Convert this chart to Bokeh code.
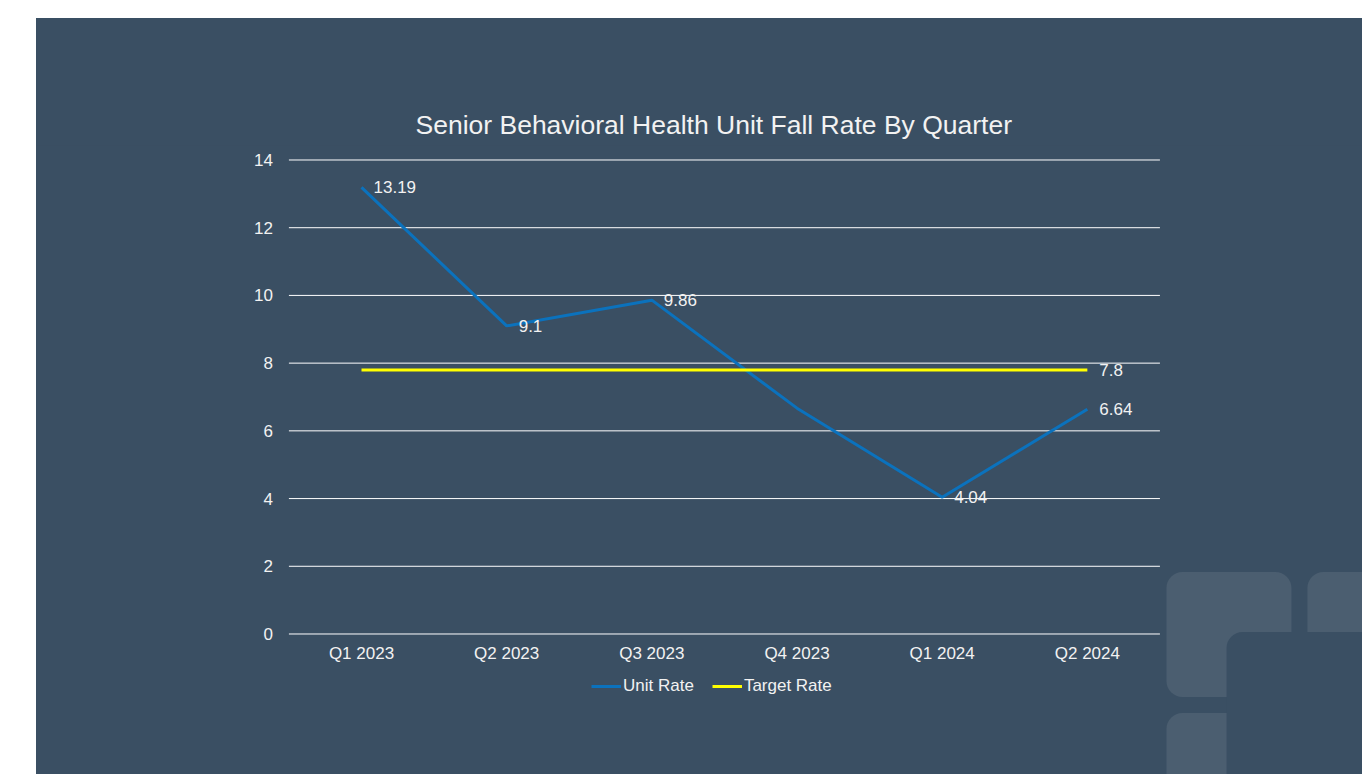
from bokeh.plotting import figure
from bokeh.models import (Range1d, FixedTicker, Legend, LegendItem,
                          Spacer, ColumnDataSource)
from bokeh.layouts import row, column
from bokeh.embed import file_html
from bokeh.resources import INLINE
from bokeh.core.properties import value

# ---- data ----
quarters = ["Q1 2023", "Q2 2023", "Q3 2023", "Q4 2023", "Q1 2024", "Q2 2024"]
unit_rate = [13.19, 9.1, 9.86, 6.67, 4.04, 6.64]
unit_label_shown = [True, True, True, False, True, True]
target_rate = [7.8, 7.8, 7.8, 7.8, 7.8, 7.8]
target_label_shown = [False, False, False, False, False, True]
y_ticks = [0, 2, 4, 6, 8, 10, 12, 14]

BG = "#3a4f63"
LIGHT = "#4b5e70"
TXT = "#f2f2f2"
FONT = "Liberation Sans"

xs = list(range(len(quarters)))
n = len(quarters)

# frame covers the dark panel below the title; category i centred at i
p = figure(width=1326, height=756, output_backend="svg", toolbar_location=None,
           x_range=Range1d(-2.2388, 6.8954),
           y_range=Range1d(-4.150, 14.428),
           min_border_left=0, min_border_right=0,
           min_border_top=127, min_border_bottom=0)
p.background_fill_color = BG
p.background_fill_alpha = 0
p.border_fill_color = BG
p.outline_line_color = None
p.styles = {"background-color": BG}

p.title.text = "Senior Behavioral Health Unit Fall Rate By Quarter"
p.title.text_font = FONT
p.title.text_font_size = "26.5px"
p.title.text_font_style = "normal"
p.title.text_color = TXT
p.title.align = "left"
p.title.offset = 379
p.title.standoff = 11

# axes, pinned to the chart area
p.xaxis.ticker = FixedTicker(ticks=xs)
p.xaxis.major_label_overrides = {i: q for i, q in zip(xs, quarters)}
p.xaxis.fixed_location = 0
p.yaxis.ticker = FixedTicker(ticks=y_ticks)
p.yaxis.fixed_location = -0.5
for ax in (p.xaxis[0], p.yaxis[0]):
    ax.axis_line_color = None
    ax.major_tick_line_color = None
    ax.minor_tick_line_color = None
    ax.major_tick_out = 0
    ax.major_tick_in = 0
    ax.major_label_text_font = FONT
    ax.major_label_text_font_size = "17px"
    ax.major_label_text_color = TXT
p.yaxis.major_label_standoff = 16
p.xaxis.major_label_standoff = 10
p.xgrid.grid_line_color = None
p.ygrid.grid_line_color = None

# horizontal grid lines across the category span
p.segment(x0=[-0.5] * len(y_ticks), x1=[n - 0.5] * len(y_ticks), y0=y_ticks, y1=y_ticks,
          line_color="#ffffff", line_width=1, line_alpha=1.0)

# decorative rounded squares (bottom right)
deco_l = [5.545, 6.516, 5.545, 5.959]
deco_r = [6.406, 8.0, 6.406, 8.0]
deco_b = [-1.861, -1.861, -6.0, -6.0]
deco_t = [1.831, 1.831, -2.333, 0.059]
deco_c = [LIGHT, LIGHT, LIGHT, BG]
p.quad(left=deco_l, right=deco_r, bottom=deco_b, top=deco_t, fill_color=deco_c,
       line_color=None, border_radius=16)

src = ColumnDataSource(dict(
    x=xs, unit=unit_rate, target=target_rate,
    ulab=[f"{v:g}" if s else "" for v, s in zip(unit_rate, unit_label_shown)],
    tlab=[f"{v:g}" if s else "" for v, s in zip(target_rate, target_label_shown)],
))

l1 = p.line("x", "unit", source=src, line_color="#0b72bd", line_width=3)
l2 = p.line("x", "target", source=src, line_color="#ffff00", line_width=3)

p.text("x", "unit", text="ulab", source=src, x_offset=12, text_baseline="middle",
       text_align="left", text_font=value(FONT), text_font_size="17px", text_color=TXT)
p.text("x", "target", text="tlab", source=src, x_offset=12, text_baseline="middle",
       text_align="left", text_font=value(FONT), text_font_size="17px", text_color=TXT)

legend = Legend(items=[LegendItem(label="Unit Rate", renderers=[l1]),
                       LegendItem(label="Target Rate", renderers=[l2])],
                orientation="horizontal", location=(555, 78),
                background_fill_alpha=0, border_line_color=None,
                label_text_font=FONT, label_text_font_size="17px",
                label_text_color=TXT, glyph_width=30, label_standoff=2,
                spacing=18, margin=0, padding=4)
p.add_layout(legend, "center")

layout = row(Spacer(width=36, height=774), column(Spacer(width=1326, height=18), p))

open("out.html", "w").write(file_html(layout, INLINE))
